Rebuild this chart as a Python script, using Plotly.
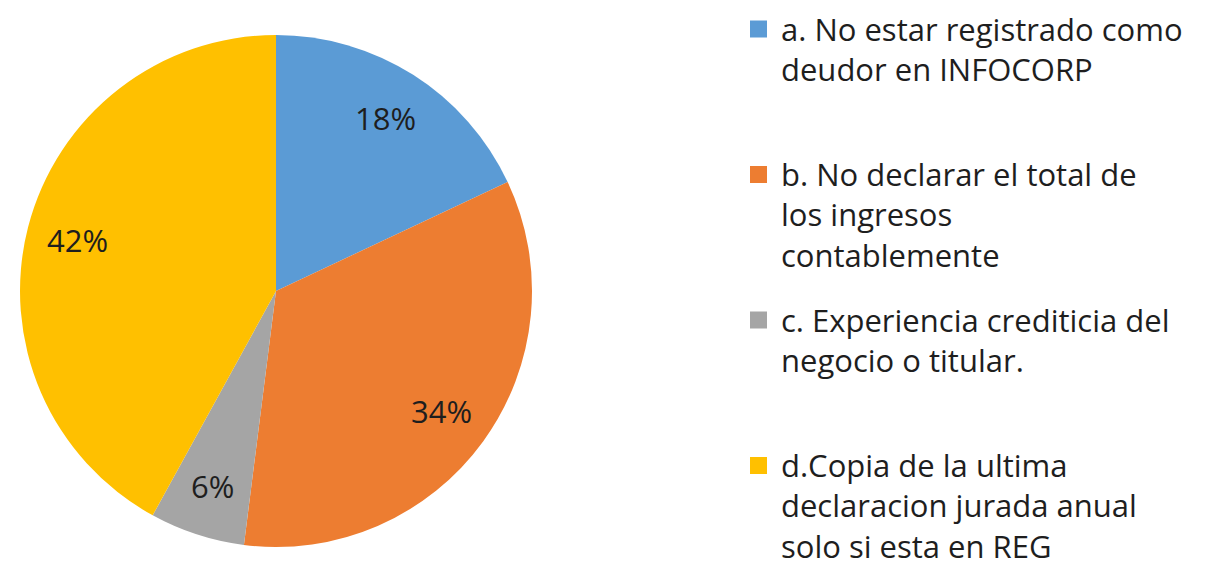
import math
import plotly.graph_objects as go

# Survey answers and their shares (%)
labels = [
    "a. No estar registrado como<br>deudor en INFOCORP",
    "b. No declarar el total de<br>los ingresos<br>contablemente",
    "c. Experiencia crediticia del<br>negocio o titular.",
    "d.Copia de la ultima<br>declaracion jurada anual<br>solo si esta en REG",
]
values = [18, 34, 6, 42]
colors = ["#5B9BD5", "#ED7D31", "#A5A5A5", "#FFC000"]

W, H = 1205, 567
FONT = "Open Sans"
TEXT_COLOR = "#1e1e1e"

# Pie geometry in pixels
cx, cy, R = 276, 291, 256

fig = go.Figure()
fig.add_trace(
    go.Pie(
        labels=labels,
        values=values,
        sort=False,
        direction="clockwise",
        rotation=0,
        marker=dict(colors=colors, line=dict(width=0)),
        textinfo="none",
        hoverinfo="label+percent",
        showlegend=False,
        domain=dict(
            x=[(cx - R) / W, (cx + R) / W],
            y=[(H - cy - R) / H, (H - cy + R) / H],
        ),
    )
)

annotations = []
shapes = []

# Percentage labels placed along each slice's bisector
total = sum(values)
cum = 0
for v in values:
    theta = 2 * math.pi * (cum + v / 2) / total
    cum += v
    px = cx + 0.8 * R * math.sin(theta)
    py = cy - 0.8 * R * math.cos(theta)
    annotations.append(
        dict(
            x=px / W,
            y=1 - py / H,
            xref="paper",
            yref="paper",
            text=f"{round(100 * v / total)}%",
            showarrow=False,
            font=dict(family=FONT, size=31, color=TEXT_COLOR),
            xanchor="center",
            yanchor="middle",
        )
    )

# Legend: one equal-height slot per category, colour key beside the first line
LEG_FONT = 31
slot_top, slot_h = 29, 145.5   # centre of first line of the first entry, slot pitch
key_x0, key_size, text_x = 750, 17, 779
line_h = 1.3 * LEG_FONT
for i, (lab, col) in enumerate(zip(labels, colors)):
    yc = slot_top + i * slot_h
    shapes.append(
        dict(
            type="rect",
            xref="paper",
            yref="paper",
            x0=key_x0 / W,
            x1=(key_x0 + key_size) / W,
            y0=1 - (yc - key_size / 2) / H,
            y1=1 - (yc + key_size / 2) / H,
            fillcolor=col,
            line=dict(width=0),
        )
    )
    annotations.append(
        dict(
            x=text_x / W,
            y=1 - (yc - line_h / 2 - 3) / H,
            xref="paper",
            yref="paper",
            text=lab,
            showarrow=False,
            align="left",
            xanchor="left",
            yanchor="top",
            font=dict(family=FONT, size=LEG_FONT, color=TEXT_COLOR),
        )
    )

fig.update_layout(
    width=W,
    height=H,
    margin=dict(l=0, r=0, t=0, b=0),
    paper_bgcolor="white",
    plot_bgcolor="white",
    showlegend=False,
    annotations=annotations,
    shapes=shapes,
)

fig.write_html("out.html")
